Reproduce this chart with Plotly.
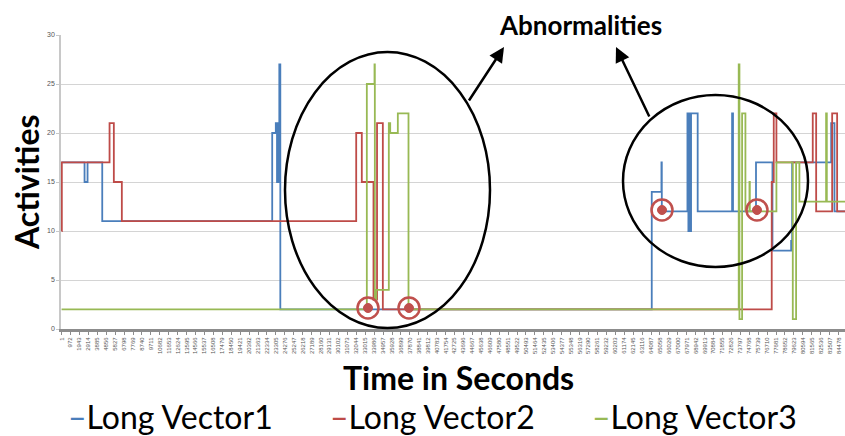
import plotly.graph_objects as go

# ---------------- data ----------------
tick_labels = [1, 972, 1943, 2914, 3885, 4856, 5827, 6798, 7769, 8740, 9711, 10682,
               11653, 12624, 13595, 14566, 15537, 16508, 17479, 18450, 19421, 20392,
               21363, 22334, 23305, 24276, 25247, 26218, 27189, 28160, 29131, 30102,
               31073, 32044, 33015, 33986, 34957, 35928, 36899, 37870, 38841, 39812,
               40783, 41754, 42725, 43696, 44667, 45638, 46609, 47580, 48551, 49522,
               50493, 51464, 52435, 53406, 54377, 55348, 56319, 57290, 58261, 59232,
               60203, 61174, 62145, 63116, 64087, 65058, 66029, 67000, 67971, 68942,
               69913, 70884, 71855, 72826, 73797, 74768, 75739, 76710, 77681, 78652,
               79623, 80594, 81565, 82536, 83507, 84478]

v1_t = [1, 2500, 2826, 4424, 22903, 23294, 23425, 23480, 23534, 23588, 23675, 23784,
        64166, 65220, 65260, 68046, 68150, 68250, 68350, 68440, 69160, 72900, 73000,
        75500, 77290, 79320, 79430, 83670, 84030, 85300]
v1_y = [17, 15, 17, 11, 20, 21, 15, 21, 15, 21, 27, 2,
        14, 17, 12, 22, 10, 22, 10, 22, 12, 22, 12,
        17, 8, 9, 17, 21, 12, 12]

v2_t = [1, 30, 5218, 5685, 6555, 32034, 32643, 33915, 34300, 34930,
        77210, 77430, 77720, 81670, 82040, 83780, 84320, 85300]
v2_y = [10, 17, 21, 15, 11, 20, 15, 3, 21, 2,
        15, 22, 17, 22, 12, 22, 12, 12]

v3_t = [1, 33190, 34025, 34060, 34210, 35580, 35730, 36560, 37720,
        73620, 73700, 73990, 74350, 74790, 74830, 77720, 79500, 79860, 80220,
        83120, 83200, 85300]
v3_y = [2, 25, 27, 3, 4, 21, 20, 22, 2,
        27, 1, 22, 12, 15, 12, 17, 1, 17, 13,
        22, 13, 13]

names = ["Long Vector1", "Long Vector2", "Long Vector3"]
colors = ["#4a7ebb", "#be4b48", "#98b954"]

# ---------------- figure ----------------
W, H = 845, 436
L, R, T, B = 61, 0, 35, 107


def px(x):
    return (x - L) / (W - L - R)


def py(y):
    return (H - B - y) / (H - T - B)


fig = go.Figure()
for t, y, n, c in zip([v1_t, v2_t, v3_t], [v1_y, v2_y, v3_y], names, colors):
    fig.add_trace(go.Scatter(x=t, y=y, name=n, mode="lines", line_shape="hv",
                             line=dict(color=c, width=1.8), showlegend=False))

fig.update_layout(
    width=W, height=H,
    margin=dict(l=L, r=R, t=T, b=B),
    paper_bgcolor="white", plot_bgcolor="white",
    font=dict(family="Lato", color="#000"),
)
fig.update_xaxes(
    range=[-60, 85176], tickmode="array", tickvals=tick_labels,
    ticktext=[str(v) for v in tick_labels], tickangle=-90,
    tickfont=dict(size=6, color="#555", family="Liberation Sans Narrow, Liberation Sans"),
    showgrid=False, showline=True, linecolor="#8c8c8c", linewidth=3,
    ticks="outside", ticklen=3, tickcolor="#8c8c8c", zeroline=False,
    automargin=False,
)
fig.update_yaxes(
    range=[0, 30], dtick=5, showgrid=True, gridcolor="#d4d4d4", gridwidth=1,
    tickfont=dict(size=7, color="#555", family="Liberation Sans"),
    showline=True, linecolor="#c8c8c8", linewidth=1.5, ticks="outside",
    ticklen=3, tickcolor="#c8c8c8", zeroline=False, automargin=False,
)

# big ellipses
for (x0, y0, x1, y1) in [(285, 52, 490, 328), (623, 95, 808, 267)]:
    fig.add_shape(type="circle", xref="paper", yref="paper",
                  x0=px(x0), x1=px(x1), y0=py(y1), y1=py(y0),
                  line=dict(color="black", width=2.5))

# red abnormality markers
for (cx, cy) in [(368, 308), (409, 308), (662, 210), (757, 210)]:
    r = 10.5
    fig.add_shape(type="circle", xref="paper", yref="paper",
                  x0=px(cx - r), x1=px(cx + r), y0=py(cy + r), y1=py(cy - r),
                  line=dict(color="#c0504d", width=2.5))
    r2 = 4.5
    fig.add_shape(type="circle", xref="paper", yref="paper",
                  x0=px(cx - r2), x1=px(cx + r2), y0=py(cy + r2), y1=py(cy - r2),
                  fillcolor="#c0504d", line=dict(color="#c0504d", width=1))

# arrows
for (tx, ty, hx, hy) in [(468, 102, 504, 47), (650, 118, 616, 47)]:
    fig.add_annotation(xref="paper", yref="paper", x=px(hx), y=py(hy),
                       ax=tx - hx, ay=ty - hy, axref="pixel", ayref="pixel",
                       showarrow=True, arrowhead=2, arrowsize=1.2, arrowwidth=2.5,
                       arrowcolor="black", text="")

fig.add_annotation(xref="paper", yref="paper", x=px(580), y=py(25),
                   xanchor="center", yanchor="middle",
                   text="Abnormalities", showarrow=False,
                   font=dict(size=26, family="Lato", weight="bold", color="black"))

fig.add_annotation(xref="paper", yref="paper", x=px(26), y=py(182),
                   xanchor="center", yanchor="middle",
                   text="Activities", textangle=-90, showarrow=False,
                   font=dict(size=32, family="Lato", weight="bold", color="black"))

fig.add_annotation(xref="paper", yref="paper", x=px(458), y=py(377),
                   xanchor="center", yanchor="middle",
                   text="Time in Seconds", showarrow=False,
                   font=dict(size=32, family="Lato", weight="bold", color="black"))

for (lx, n, c) in [(66, names[0], colors[0]), (328, names[1], colors[1]), (590, names[2], colors[2])]:
    fig.add_annotation(xref="paper", yref="paper", x=px(lx), y=py(416),
                       xanchor="left", yanchor="middle",
                       text=f"<span style='color:{c}'>–</span>{n}",
                       showarrow=False,
                       font=dict(size=32, family="Lato", color="black"))

fig.write_html("out.html", post_script="document.body.style.margin='0';",
               config={"displayModeBar": False})
